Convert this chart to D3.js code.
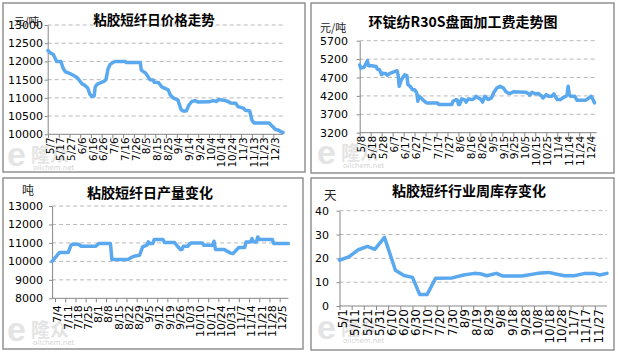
<!DOCTYPE html>
<html><head><meta charset="utf-8">
<script src="https://cdn.jsdelivr.net/npm/d3@7"></script>
<style>body{margin:0;background:#fff}svg{display:block}</style>
</head><body>
<svg id="c" width="618" height="356"></svg>
<script>
// ---------- DATA ----------
const priceDates = ["5/7","5/9","5/12","5/15","5/19","5/21","5/23","5/28","6/3","6/8","6/10","6/13","6/15","6/17","6/19","6/20","6/22","6/28","6/30","7/2","7/4","7/7","7/9","7/18","7/19","8/1","8/2","8/6","8/10","8/13","8/14","8/18","8/21","8/24","8/27","8/29","9/1","9/5","9/8","9/10","9/13","9/15","9/18","9/21","9/24","10/4","10/8","10/11","10/13","10/19","10/22","10/24","10/29","10/31","11/5","11/7","11/11","11/13","11/15","11/29","12/2","12/5","12/8","12/10","12/12"];
const priceValues = [12300,12240,12190,12000,12000,11820,11720,11660,11560,11380,11350,11270,11100,11040,11050,11300,11380,11450,11500,11800,11920,11980,12000,12000,11970,11970,11760,11680,11500,11490,11430,11420,11300,11260,11220,11080,10990,10945,10680,10640,10640,10790,10900,10925,10885,10890,10925,10900,10955,10925,10900,10860,10850,10760,10720,10660,10640,10390,10310,10310,10220,10130,10110,10070,10050];
const priceTicks = ["5/7","5/17","5/27","6/6","6/16","6/26","7/6","7/16","7/26","8/5","8/15","8/25","9/4","9/14","9/24","10/4","10/14","10/24","11/3","11/13","11/23","12/3"];
const priceYTicks = [10000,10500,11000,11500,12000,12500,13000];

const feeDates = ["5/8","5/9","5/12","5/14","5/15","5/16","5/19","5/23","5/24","5/26","5/28","5/29","6/1","6/2","6/5","6/7","6/11","6/12","6/13","6/15","6/18","6/20","6/21","6/23","6/25","6/27","6/29","6/30","7/1","7/3","7/6","7/8","7/18","7/19","7/31","8/1","8/4","8/5","8/6","8/7","8/9","8/12","8/13","8/15","8/18","8/20","8/22","8/24","8/26","8/28","8/30","9/2","9/5","9/7","9/10","9/13","9/16","9/18","9/20","9/22","9/25","10/6","10/9","10/10","10/12","10/15","10/18","10/19","10/21","10/22","10/25","10/27","10/30","11/1","11/4","11/7","11/9","11/12","11/13","11/14","11/15","11/16","11/20","11/22","11/30","12/3","12/5","12/6","12/8"];
const feeValues = [5040,4955,4980,5090,5160,5020,5020,5000,4930,4910,4775,4820,4800,4760,4820,4840,4885,4775,4460,4640,4775,4750,4505,4460,4370,4370,4280,4055,4190,4145,4055,4010,4010,3965,3965,4055,4100,4085,3965,3965,4120,4085,4030,4120,4100,4120,4190,4145,4120,4030,4190,4100,4145,4280,4415,4460,4415,4325,4280,4265,4310,4300,4265,4220,4300,4255,4265,4235,4190,4145,4235,4190,4190,4255,4100,4100,4145,4190,4235,4460,4235,4190,4190,4085,4085,4145,4190,4145,4010];
const feeTicks = ["5/8","5/18","5/28","6/7","6/17","6/27","7/7","7/17","7/27","8/6","8/16","8/26","9/5","9/15","9/25","10/5","10/15","10/25","11/4","11/14","11/24","12/4"];
const feeYTicks = [3200,3700,4200,4700,5200,5700];

const outputDates = ["7/2","7/7","7/13","7/15","7/16","7/20","7/22","8/1","8/3","8/11","8/12","8/23","8/25","8/28","8/31","9/2","9/5","9/6","9/7","9/9","9/10","9/16","9/17","9/24","9/26","9/28","9/29","9/30","10/3","10/5","10/13","10/14","10/20","10/21","10/22","10/28","11/1","11/3","11/7","11/11","11/12","11/15","11/16","11/17","11/19","11/20","11/21","11/30","12/1","12/11"];
const outputValues = [10000,10475,10475,10875,10930,10930,10820,10820,10965,10965,10100,10100,10200,10295,10330,10780,10875,11055,10965,10965,11180,11180,11020,11020,10820,10640,10640,10820,10820,11000,11000,10875,10875,11090,10640,10640,10460,10420,10750,10750,11055,11055,11235,11055,11055,11325,11180,11180,10965,10965];
const outputTicks = ["7/4","7/11","7/18","7/25","8/1","8/8","8/15","8/22","8/29","9/5","9/12","9/19","9/26","10/3","10/10","10/17","10/24","10/31","11/7","11/14","11/21","11/28","12/5"];
const outputYTicks = [8000,9000,10000,11000,12000,13000];

const stockDates = ["5/1","5/9","5/16","5/24","5/30","6/7","6/16","6/23","6/30","7/6","7/12","7/19","8/1","8/11","8/20","8/26","8/30","9/7","9/12","9/28","10/11","10/20","10/26","11/2","11/10","11/18","11/27","12/1","12/7"];
const stockValues = [19.2,20.7,23.5,25.0,23.8,28.8,15.0,12.8,12.0,4.8,4.8,11.6,11.7,13.0,13.7,13.4,12.7,13.7,12.6,12.6,13.7,14.1,13.4,12.7,12.7,13.6,13.6,13.0,13.7];
const stockTicks = ["5/1","5/11","5/21","5/31","6/10","6/20","6/30","7/10","7/20","7/30","8/9","8/19","8/29","9/8","9/18","9/28","10/8","10/18","10/28","11/7","11/17","11/27"];
const stockYTicks = [0,10,20,30,40];

const titles = ["粘胶短纤日价格走势","环锭纺R30S盘面加工费走势图","粘胶短纤日产量变化","粘胶短纤行业周库存变化"];
const units = ["元/吨","元/吨","吨","天"];

// ---------- LAYOUT ----------
const parse = s => d3.timeParse("%Y/%m/%d")("2019/" + s);
const svg = d3.select("#c");
const LINE = "#5aa8ee";

const panels = [
  {dates: priceDates, values: priceValues, ticks: priceTicks, yTicks: priceYTicks, title: titles[0], unit: units[0],
   box: [3,3,302,169], xDom: ["5/7","12/12"], x0: 47.7, xr: [48,283], yT: 25, yB: 134.3,
   tx: 154, ty: 20.5, ts: 13.5, ux: 14, uy: 21, us: 10.5, pad: 1.7, lfs: 10.5, lgap: 3, loff: 1.5, wm: [8,145]},
  {dates: feeDates, values: feeValues, ticks: feeTicks, yTicks: feeYTicks, title: titles[1], unit: units[1],
   box: [311,3,303,170], xDom: ["5/8","12/10"], x0: 359.7, xr: [359.7,596.7], yT: 40.7, yB: 132.7,
   tx: 463, ty: 21.5, ts: 14, ux: 320, uy: 28, us: 11, pad: 8.7, lfs: 10.5, lgap: 3, loff: 1, wm: [318,143]},
  {dates: outputDates, values: outputValues, ticks: outputTicks, yTicks: outputYTicks, title: titles[2], unit: units[2],
   box: [3,178,300,171], xDom: ["7/2","12/11"], x0: 52.1, xr: [52.1,288.4], yT: 206, yB: 298.3,
   tx: 150, ty: 193, ts: 14, ux: 22, uy: 191, us: 12, pad: 6, lfs: 11, lgap: 7, loff: 2, wm: [8,320]},
  {dates: stockDates, values: stockValues, ticks: stockTicks, yTicks: stockYTicks, title: titles[3], unit: units[3],
   box: [311,178,303,172], xDom: ["5/1","12/7"], x0: 339.5, xr: [339.5,607], yT: 210.7, yB: 306,
   tx: 469, ty: 191.3, ts: 14, ux: 324, uy: 196, us: 12.5, pad: 7.5, lfs: 12, lgap: 3, loff: 3, wm: [318,318]}
];

function drawPanel(p) {
  const g = svg.append("g");
  g.append("rect").attr("x", p.box[0]).attr("y", p.box[1]).attr("width", p.box[2]).attr("height", p.box[3])
    .attr("fill", "#fff").attr("stroke", "#8a8a8a").attr("stroke-width", 1.4);

  // watermark
  const w = g.append("g").attr("transform", `translate(${p.wm[0]},${p.wm[1]})`);
  w.append("text").attr("x", -1).attr("y", 21).text("e")
    .attr("font-family", "Liberation Sans, Arial").attr("font-weight", "bold").attr("font-size", 34).attr("fill", "#e4e4e4");
  w.append("text").attr("x", 23).attr("y", 17).text("隆众")
    .attr("font-family", "Noto Sans CJK SC").attr("font-weight", "bold").attr("font-size", 19).attr("fill", "#e4e4e4");
  w.append("text").attr("x", 25).attr("y", 25).text("oilchem.net")
    .attr("font-family", "DejaVu Sans").attr("font-size", 7).attr("fill", "#d4d4d4");

  const x = d3.scaleTime().domain(p.xDom.map(parse)).range(p.xr);
  const y = d3.scaleLinear().domain([p.yTicks[0], p.yTicks[p.yTicks.length - 1]]).range([p.yB, p.yT]);
  const xEnd = p.xr[1];

  // gridlines
  g.append("g").selectAll("line").data(p.yTicks.slice(1)).join("line")
    .attr("x1", p.x0).attr("x2", xEnd).attr("y1", d => y(d)).attr("y2", d => y(d))
    .attr("stroke", "#b8b8b8").attr("stroke-width", 1).attr("stroke-dasharray", "4,3");

  // y axis
  const ya = g.append("g").attr("transform", `translate(${p.x0},0)`)
    .call(d3.axisLeft(y).tickValues(p.yTicks).tickSize(3).tickSizeOuter(0).tickPadding(p.pad).tickFormat(d3.format("d")));
  ya.select(".domain").attr("stroke", "#868686");
  ya.selectAll(".tick line").attr("stroke", "#868686");
  ya.selectAll("text").attr("font-family", "DejaVu Sans").attr("font-size", 11).attr("fill", "#000");

  // x axis
  const xa = g.append("g").attr("transform", `translate(0,${p.yB})`)
    .call(d3.axisBottom(x).tickValues(p.ticks.map(parse)).tickSize(4).tickSizeOuter(0).tickFormat((d, i) => p.ticks[i]));
  xa.select(".domain").attr("stroke", "#868686").attr("d", `M${p.x0},0H${xEnd}`);
  xa.selectAll(".tick line").attr("stroke", "#868686");
  xa.selectAll("text").attr("font-family", "DejaVu Sans").attr("font-size", p.lfs).attr("fill", "#000")
    .attr("transform", "rotate(-90)").attr("text-anchor", "end")
    .attr("x", -p.lgap).attr("y", p.loff).attr("dy", "0.35em");

  // line
  const pts = p.dates.map((d, i) => ({d: parse(d), v: p.values[i]}));
  g.append("path").datum(pts)
    .attr("d", d3.line().x(d => x(d.d)).y(d => y(d.v)))
    .attr("fill", "none").attr("stroke", LINE).attr("stroke-width", 3.5)
    .attr("stroke-linejoin", "round").attr("stroke-linecap", "round");

  // unit and title
  g.append("text").attr("x", p.ux).attr("y", p.uy).attr("dy", "0.35em").text(p.unit)
    .attr("font-family", "Noto Sans CJK SC").attr("font-size", p.us).attr("fill", "#222");
  g.append("text").attr("x", p.tx).attr("y", p.ty).attr("dy", "0.36em").attr("text-anchor", "middle").text(p.title)
    .attr("font-family", "Noto Sans CJK SC").attr("font-weight", "bold").attr("font-size", p.ts).attr("fill", "#000");
}

panels.forEach(drawPanel);
</script>
</body></html>
